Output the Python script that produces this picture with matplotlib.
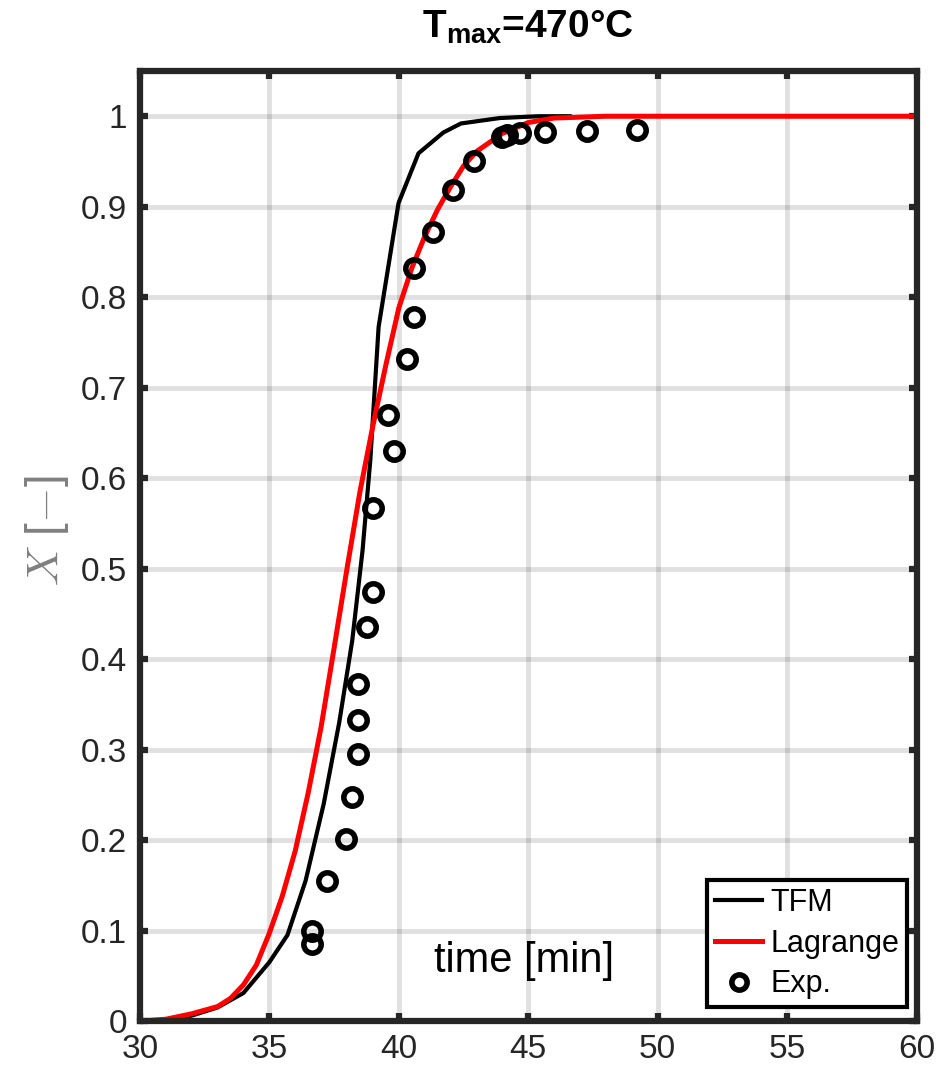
import matplotlib
matplotlib.use('Agg')
import matplotlib.pyplot as plt

# TFM simulation (min, conversion)
tfm_t = [30, 31, 32, 33, 34, 35, 35.7, 36.4, 37.1, 37.7, 38.2, 38.6, 38.9, 39.22,
         39.99, 40.76, 41.72, 42.4, 43.9, 45.4, 46.6]
tfm_x = [0, 0.001, 0.006, 0.015, 0.031, 0.065, 0.095, 0.155, 0.24, 0.33, 0.42, 0.52,
         0.62, 0.767, 0.904, 0.959, 0.982, 0.992, 0.998, 1.0, 1.0]

# Lagrange simulation
lag_t = [30, 31, 32, 33, 33.5, 34, 34.5, 35, 35.5, 36, 36.5, 37, 37.5, 38, 38.5, 39,
         39.5, 40, 40.5, 41, 41.5, 42, 42.5, 43, 44, 45, 46, 47, 48, 60]
lag_x = [0, 0.002, 0.008, 0.016, 0.025, 0.04, 0.062, 0.097, 0.138, 0.188, 0.252, 0.325,
         0.412, 0.5, 0.585, 0.658, 0.725, 0.788, 0.832, 0.867, 0.897, 0.922, 0.945, 0.961,
         0.981, 0.993, 0.998, 0.999, 1.0, 1.0]

# experiments
exp_t = [36.63, 36.63, 37.21, 37.98, 38.18, 38.41, 38.41, 38.41, 38.79, 38.99, 38.99,
         39.60, 39.80, 40.33, 40.57, 40.57, 41.34, 42.11, 42.92, 44.0, 44.19, 44.69,
         45.66, 47.28, 49.2]
exp_x = [0.100, 0.085, 0.155, 0.201, 0.248, 0.295, 0.333, 0.372, 0.436, 0.474, 0.567,
         0.670, 0.630, 0.732, 0.778, 0.832, 0.872, 0.919, 0.951, 0.977, 0.979, 0.981,
         0.983, 0.984, 0.985]

xticks = [30, 35, 40, 45, 50, 55, 60]
yticks = [0, 0.1, 0.2, 0.3, 0.4, 0.5, 0.6, 0.7, 0.8, 0.9, 1]
yticklabels = ['0', '0.1', '0.2', '0.3', '0.4', '0.5', '0.6', '0.7', '0.8', '0.9', '1']

plt.rcParams['font.family'] = ['Liberation Sans', 'DejaVu Sans']
plt.rcParams['mathtext.fontset'] = 'custom'
plt.rcParams['mathtext.rm'] = 'Liberation Sans'
plt.rcParams['mathtext.bf'] = 'Liberation Sans:bold'

dark = '#262626'
fig = plt.figure(figsize=(9.45, 10.74), dpi=100)
ax = fig.add_axes([0.148, 0.0493, 0.822, 0.8846])

ax.plot(tfm_t, tfm_x, color='black', lw=3.0, label='TFM')
ax.plot(lag_t, lag_x, color='#ff0000', lw=3.6, label='Lagrange')
ax.plot(exp_t, exp_x, ls='none', marker='o', ms=12.5, mfc='none', mec='black',
        mew=4.0, label='Exp.')

ax.set_xlim(30, 60)
ax.set_ylim(0, 1.05)
ax.set_xticks(xticks)
ax.set_yticks(yticks)
ax.set_yticklabels(yticklabels)

ax.grid(True, color='black', alpha=0.12, lw=3.5)
ax.set_axisbelow(True)
for s in ax.spines.values():
    s.set_linewidth(4.5)
    s.set_color(dark)
ax.tick_params(direction='in', length=6, width=4.5, color=dark, labelcolor=dark,
               labelsize=24, top=True, right=True, pad=9)

ax.set_xlabel('time [min]', fontsize=30, color='black')
ax.xaxis.set_label_coords(0.495, 0.063)
ax.xaxis.label.set_va('center')

ax.set_ylabel(r'$X$ [$-$]', fontsize=33, color='#808080', math_fontfamily='cm')
ax.yaxis.set_label_coords(-0.12, 0.516)
ax.yaxis.label.set_va('center')

ax.text(0.5, 1.035, r'T$_{\mathbf{max}}$=470°C', transform=ax.transAxes,
        ha='center', va='baseline', fontsize=28, fontweight='bold')

leg = ax.legend(loc='lower right', bbox_to_anchor=(0.987, 0.0147), borderaxespad=0,
                fontsize=22, frameon=True, fancybox=False, edgecolor='black',
                handlelength=1.55, handletextpad=0.25, labelspacing=0.35,
                borderpad=0.25, numpoints=1)
leg.get_frame().set_linewidth(3.0)
leg.get_frame().set_alpha(1)
leg.legend_handles[2].set_markersize(11)

fig.savefig('out.png', dpi=100)
